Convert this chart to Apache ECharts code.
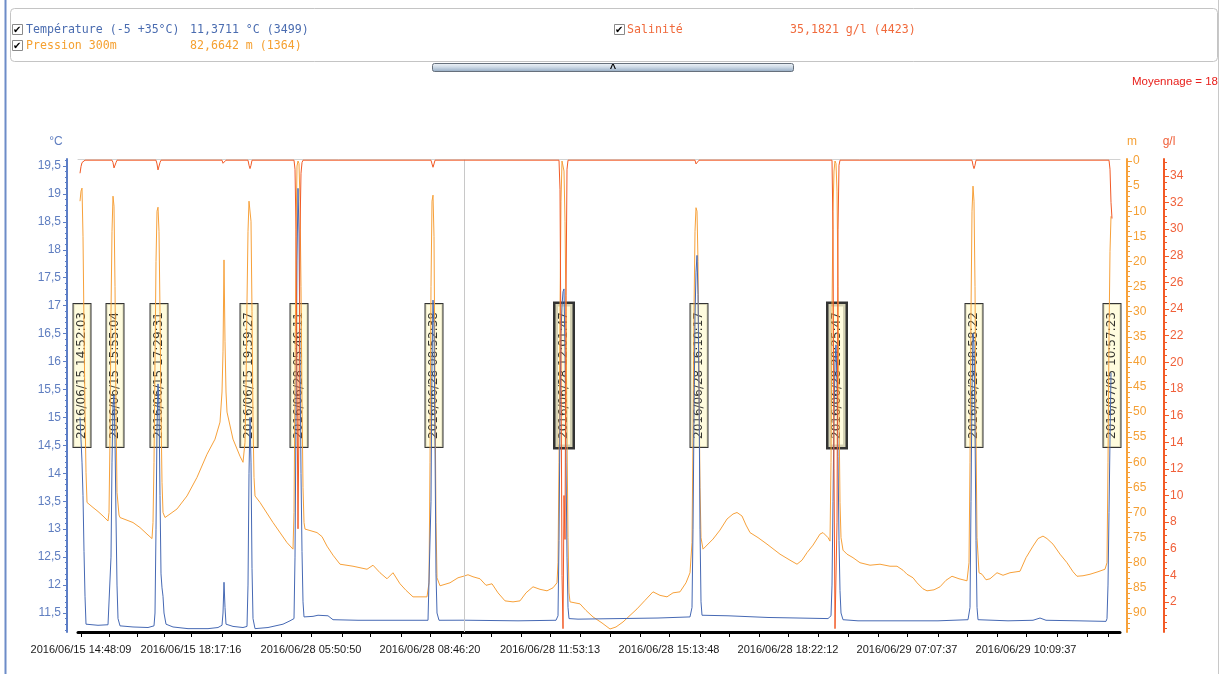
<!DOCTYPE html>
<html>
<head>
<meta charset="utf-8">
<script src="https://cdn.jsdelivr.net/npm/echarts@6/dist/echarts.min.js"></script>
<style>
  html, body { margin: 0; padding: 0; background: #fff; }
  #chart { width: 1220px; height: 674px; }
</style>
</head>
<body>
<div id="chart"></div>
<script>
// Records are indexed by sample number along the horizontal axis.

// Température (°C)
const temperature = [
  [2,15.0],[3,14.6],[4,14.2],[5,13.6],[6,12.6],[7,11.8],[8,11.3],[9,11.27],[20,11.28],[30,11.29],[32,11.3],
  [33,12.5],[34,14.2],[35,15.2],[36,15.4],[37,14.6],[38,13.2],[39,12.0],[40,11.4],[42,11.27],[55,11.25],[70,11.24],
  [76,11.27],[77,11.5],[78,13.0],[79,14.8],[80,15.6],[81,15.2],[82,13.6],[83,12.2],[84,11.95],[85,11.8],[86,11.5],
  [88,11.3],[95,11.25],[110,11.22],[130,11.22],[140,11.24],[144,11.28],[145,11.5],[146,12.05],[147,11.6],[148,11.3],
  [155,11.26],[165,11.24],[169,11.26],[170,12.0],[171,14.0],[172,15.0],[173,14.2],[174,12.3],[175,11.4],[177,11.22],
  [190,11.24],[205,11.3],[212,11.36],[216,11.4],[217,12.5],[218,15.0],[219,17.8],[220,19.1],[221,18.3],[222,16.0],
  [223,14.0],[224,12.6],[225,11.7],[226,11.43],[235,11.44],[240,11.46],[250,11.45],[255,11.38],[280,11.37],[320,11.37],
  [350,11.37],[352,11.4],[353,13.5],[354,16.0],[355,17.1],[356,16.6],[357,14.5],[358,12.2],[359,11.5],[361,11.37],
  [386,11.3711],[440,11.36],[478,11.37],[480,11.45],[481,12.8],[482,15.0],[483,16.5],[484,17.0],[485,17.25],[486,17.3],
  [487,16.2],[488,14.2],[489,12.5],[490,11.6],[491,11.4],[500,11.39],[540,11.4],[580,11.41],[612,11.43],[614,11.6],
  [615,13.0],[616,15.0],[617,16.8],[618,17.6],[619,17.9],[620,17.2],[621,15.5],[622,13.0],[623,11.7],[624,11.46],
  [650,11.45],[690,11.42],[720,11.41],[750,11.4],[753,11.45],[754,12.0],[755,13.5],[756,15.0],[757,16.0],[758,16.3],
  [759,15.6],[760,14.3],[761,12.8],[762,11.9],[763,11.5],[765,11.38],[780,11.36],[860,11.36],[890,11.38],[892,11.6],
  [893,13.5],[894,15.5],[895,16.5],[896,16.3],[897,14.8],[898,12.8],[899,11.6],[900,11.38],[930,11.36],[955,11.37],
  [962,11.41],[968,11.37],[1000,11.36],[1028,11.35],[1029,11.4],[1030,12.0],[1031,13.3],[1032,14.6],[1033,15.8]
];

// Pression 300m (m, depth)
const pression = [
  [2,8],[3,6],[4,5.4],[5,15],[6,33],[7,50],[8,62],[9,68],[15,69],[20,69.8],[25,70.7],[30,71.7],[31,70],[32,55],
  [33,30],[34,14],[35,7],[36,9],[37,25],[38,50],[39,66],[41,70.5],[42,71],[55,72],[62,73],[69,74.3],[74,75.2],
  [75,72],[76,60],[77,40],[78,20],[79,10],[80,9.2],[81,14],[82,30],[83,50],[84,64],[85,70],[87,71],[92,70.3],
  [99,69.3],[109,66.7],[119,63],[129,58.4],[137,55.4],[142,52],[144,46],[145,38],[146,19.7],[147,36],[148,46],
  [149,50],[155,55.4],[162,58.8],[165,60],[167,56],[168,45],[169,28],[170,14],[171,8],[172,7.7],[173,12],[174,30],
  [175,52],[176,63],[177,66.7],[182,68],[195,72],[209,76],[215,77.3],[216,70],[217,45],[218,15],[219,1],[220,0],
  [221,0.5],[222,8],[223,25],[224,48],[225,65],[226,72],[227,73.3],[239,74],[244,74.8],[249,76.7],[255,78.5],
  [262,80.3],[275,80.7],[282,81],[289,81.3],[295,80.5],[302,82],[309,83.2],[315,82],[322,84.2],[328,85.5],
  [335,86.8],[349,86.8],[351,84],[352,60],[353,25],[354,8],[355,6.8],[356,15],[357,45],[358,72],[359,83],
  [362,84.6],[372,84],[380,83],[386,82.6642],[390,82.4],[395,82.8],[402,83.2],[408,84.5],[414,84.2],[420,86],
  [427,87.6],[435,87.8],[442,87.6],[448,86],[455,84.8],[462,85.3],[469,85.6],[475,85],[479,84],[480,80],[481,60],
  [482,30],[483,8],[484,0],[485,0],[486,2],[487,12],[488,30],[489,55],[490,75],[491,86],[492,87.8],[502,88.2],
  [508,89.5],[515,90.8],[524,92],[532,93.2],[538,92.8],[545,91.8],[552,90.5],[559,89.2],[567,87.5],[575,85.8],
  [582,86.5],[589,86.8],[595,86],[602,85.8],[608,84],[612,82],[614,76],[615,55],[616,30],[617,14],[618,9.3],
  [619,10],[620,20],[621,45],[622,65],[623,75],[625,77.3],[635,75.3],[642,73.5],[649,71.3],[655,70.3],[659,70],
  [664,70.7],[668,72.5],[672,74],[680,75],[689,76.3],[702,78.3],[712,79.5],[719,80.3],[724,79.5],[729,78],
  [735,76.5],[742,74.3],[745,74],[750,75],[752,75.7],[753,60],[754,30],[755,10],[756,2],[757,0],[758,0.5],[759,6],
  [760,25],[761,50],[762,68],[763,75],[765,77.5],[769,78.3],[775,79],[782,80],[792,80.5],[802,80.3],[812,80.7],
  [819,80.7],[825,81.5],[829,82.3],[835,83],[839,84],[845,85.2],[849,85.6],[856,85.4],[862,84.8],[868,83.5],
  [874,82.7],[881,83.2],[889,83.6],[891,80],[892,60],[893,30],[894,10],[895,5],[896,8],[897,25],[898,55],[899,75],
  [901,82],[904,82.3],[908,83.4],[912,83.2],[919,82],[925,82.5],[932,82],[942,81.7],[948,79],[955,76.7],[960,75.2],
  [965,74.7],[969,75.2],[975,76.3],[982,78.3],[989,80],[995,81.8],[999,82.7],[1005,82.6],[1012,82.3],[1020,81.8],
  [1027,81.3],[1029,80],[1030,60],[1031,35],[1032,18],[1033,11]
];

// Salinité (g/l)
const salinite = [
  [2,34.2],[3,34.7],[4,35.0],[5,35.15],[7,35.18],[34,35.18],[35,35.0],[36,34.6],[37,34.6],[38,35.0],[39,35.18],
  [78,35.18],[79,34.9],[80,34.45],[81,34.6],[82,35.0],[83,35.18],[144,35.18],[145,34.95],[146,34.85],[147,35.0],
  [148,35.18],[170,35.18],[171,34.8],[172,34.55],[173,34.8],[174,35.18],[216,35.18],[217,34.5],[218,30.0],
  [219,18.0],[220,7.5],[221,16.0],[222,30.0],[223,34.2],[224,35.0],[225,35.18],[353,35.18],[354,34.9],[355,34.65],
  [356,34.9],[357,35.18],[386,35.1821],[481,35.18],[482,33.0],[483,20.0],[484,4.0],[485,0.0],[486,10.0],[487,6.7],
  [488,25.0],[489,34.5],[490,35.18],[617,35.18],[618,34.9],[619,34.8],[620,35.0],[621,35.18],[754,35.18],
  [755,30.0],[756,12.0],[757,0.0],[758,0.0],[759,8.0],[760,30.0],[761,34.8],[762,35.18],[894,35.18],[895,34.8],
  [896,34.55],[897,34.8],[898,35.18],[1031,35.18],[1032,34.5],[1033,32.0],[1034,30.8]
];

// Horizontal axis: tick positions, labelled positions and their timestamps
const xTicks = [3,31,59,86,113,144,173,203,233,264,292,323,352,383,413,443,472,502,532,562,591,622,651,681,710,740,770,800,829,860,889,919,948,979,1009,1030];
const xLabelPos = [3,113,233,352,472,591,710,829,948];
const xLabels = [
  '2016/06/15 14:48:09','2016/06/15 18:17:16','2016/06/28 05:50:50','2016/06/28 08:46:20',
  '2016/06/28 11:53:13','2016/06/28 15:13:48','2016/06/28 18:22:12','2016/06/29 07:07:37','2016/06/29 10:09:37'
];

// Vertical axis tick labels
const tempTicks = [11.5,12,12.5,13,13.5,14,14.5,15,15.5,16,16.5,17,17.5,18,18.5,19,19.5];
const depthTicks = [0,5,10,15,20,25,30,35,40,45,50,55,60,65,70,75,80,85,90];
const salTicks = [2,4,6,8,10,12,14,16,18,20,22,24,26,28,30,32,34];

// Event markers (record number, timestamp)
const eventPos = [4,37,81,171,221,356,486,621,759,896,1034];
const eventText = [
  '2016/06/15 14:52:03','2016/06/15 15:55:04','2016/06/15 17:29:31','2016/06/15 19:59:27',
  '2016/06/28 05:46:11','2016/06/28 08:52:38','2016/06/28 12:01:47','2016/06/28 16:10:17',
  '2016/06/28 20:25:47','2016/06/29 08:58:22','2016/07/05 10:57:23'
];
const eventLevel = 15.75;     // temperature level where the markers sit
const eventBold = [486, 759]; // doubled markers

// Cursor position and readout counters
const cursorPos = 386;
const readoutCount = ['(3499)', '(1364)', '(4423)'];
const averaging = 18;

// ---------------------------------------------------------------
const BLUE = '#4669b4', BLUE_TXT = '#5f7ec0';
const ORANGE = '#f7a13a', ORANGE_TXT = '#f5a035';
const RED = '#f25a26', RED_TXT = '#f0603a';
const SANS = '"Liberation Sans", Arial, sans-serif';
const MONO = '"DejaVu Sans Mono", monospace';

function valueAt(series, pos) {
  const p = series.find(d => d[0] === pos);
  return p ? p[1] : NaN;
}
const fr = (v, n) => v.toFixed(n).replace('.', ',');
const comma = v => String(v).replace('.', ',');

function range(a, b, step) {
  const out = [];
  for (let v = a; v <= b + 1e-9; v += step) out.push(Math.round(v * 100) / 100);
  return out;
}

const chart = echarts.init(document.getElementById('chart'), null, { renderer: 'canvas' });

function minorAxis(base, ticks, len, color) {
  return Object.assign({}, base, {
    name: '',
    axisLine: { show: false, onZero: false },
    axisLabel: { show: false },
    splitLine: { show: false },
    axisTick: { show: true, customValues: ticks, length: len, lineStyle: { color: color, width: 1 } }
  });
}

const tempAxis = {
  type: 'value', position: 'left', offset: 11, min: 11.16, max: 19.625,
  name: '°C', nameLocation: 'end', nameGap: 11,
  nameTextStyle: { color: BLUE_TXT, fontSize: 12, fontFamily: SANS, padding: [0, 22, 0, 0] },
  axisLine: { show: true, onZero: false, lineStyle: { color: '#5d7ec6', width: 2 } },
  axisTick: { show: true, customValues: tempTicks, length: 4, lineStyle: { color: '#5d7ec6' } },
  axisLabel: { customValues: tempTicks, formatter: v => comma(v), color: BLUE_TXT, fontSize: 12, fontFamily: SANS, margin: 6 },
  splitLine: { show: false }
};
const depthAxis = {
  type: 'value', position: 'right', offset: 7, min: -0.4, max: 93.8, inverse: true,
  name: 'm', nameLocation: 'start', nameGap: 11,
  nameTextStyle: { color: ORANGE_TXT, fontSize: 12, fontFamily: SANS, padding: [0, 0, 0, 10] },
  axisLine: { show: true, onZero: false, lineStyle: { color: ORANGE, width: 2 } },
  axisTick: { show: true, customValues: depthTicks, length: 5, lineStyle: { color: ORANGE } },
  axisLabel: { customValues: depthTicks, color: ORANGE_TXT, fontSize: 12, fontFamily: SANS, margin: 6 },
  splitLine: { show: false }
};
const salAxis = {
  type: 'value', position: 'right', offset: 44, min: -0.25, max: 35.27,
  name: 'g/l', nameLocation: 'end', nameGap: 11,
  nameTextStyle: { color: RED_TXT, fontSize: 12, fontFamily: SANS, padding: [0, 0, 0, 10] },
  axisLine: { show: true, onZero: false, lineStyle: { color: RED, width: 2 } },
  axisTick: { show: true, customValues: salTicks, length: 5, lineStyle: { color: RED } },
  axisLabel: { customValues: salTicks, color: RED_TXT, fontSize: 12, fontFamily: SANS, margin: 6 },
  splitLine: { show: false }
};

const tv = valueAt(temperature, cursorPos);
const pv = valueAt(pression, cursorPos);
const sv = valueAt(salinite, cursorPos);

function checkbox(x, y) {
  return [
    { type: 'rect', shape: { x: x + 0.5, y: y + 0.5, width: 10, height: 10 }, style: { fill: '#fff', stroke: '#8a8a8a', lineWidth: 1 }, z: 10 },
    { type: 'text', x: x + 1, y: y + 1, style: { text: '✔', fill: '#000', font: 'bold 10px "DejaVu Sans"', textVerticalAlign: 'top' }, z: 11 }
  ];
}

const graphics = [
  { type: 'line', shape: { x1: 5.5, y1: 0, x2: 5.5, y2: 674 }, style: { stroke: '#6d8cc8', lineWidth: 2 } },
  { type: 'line', shape: { x1: 1218.5, y1: 0, x2: 1218.5, y2: 674 }, style: { stroke: '#c8c8c8', lineWidth: 1 } },
  { type: 'rect', shape: { x: 10.5, y: 8.5, width: 1207, height: 53, r: 4 }, style: { fill: '#fff', stroke: '#c4c4c4', lineWidth: 1 }, z: 5 },
  ...checkbox(12, 24), ...checkbox(12, 40), ...checkbox(614, 24),
  { type: 'text', x: 26, y: 30, style: { text: 'Température (-5 +35°C)', fill: '#4a6cb0', font: '11.6px ' + MONO, textVerticalAlign: 'middle' }, z: 10 },
  { type: 'text', x: 190, y: 30, style: { text: fr(tv, 4) + ' °C ' + readoutCount[0], fill: '#4a6cb0', font: '11.6px ' + MONO, textVerticalAlign: 'middle' }, z: 10 },
  { type: 'text', x: 26, y: 46, style: { text: 'Pression 300m', fill: '#f5a030', font: '11.6px ' + MONO, textVerticalAlign: 'middle' }, z: 10 },
  { type: 'text', x: 190, y: 46, style: { text: fr(pv, 4) + ' m ' + readoutCount[1], fill: '#f5a030', font: '11.6px ' + MONO, textVerticalAlign: 'middle' }, z: 10 },
  { type: 'text', x: 627, y: 30, style: { text: 'Salinité', fill: '#f06a3c', font: '11.6px ' + MONO, textVerticalAlign: 'middle' }, z: 10 },
  { type: 'text', x: 790, y: 30, style: { text: fr(sv, 4) + ' g/l ' + readoutCount[2], fill: '#f06a3c', font: '11.6px ' + MONO, textVerticalAlign: 'middle' }, z: 10 },
  { type: 'rect', shape: { x: 432.5, y: 63.5, width: 361, height: 8, r: 2 },
    style: { fill: new echarts.graphic.LinearGradient(0, 0, 0, 1, [
      { offset: 0, color: '#f2f6fa' }, { offset: 0.45, color: '#cfdbe7' }, { offset: 1, color: '#8ea6c0' }
    ]), stroke: '#66707c', lineWidth: 1 }, z: 10 },
  { type: 'text', x: 613, y: 69, style: { text: '^', fill: '#000', font: 'bold 11px ' + SANS, textAlign: 'center', textVerticalAlign: 'middle' }, z: 11 },
  { type: 'text', x: 1218, y: 82, style: { text: 'Moyennage = ' + averaging, fill: '#e8201c', font: '11.5px ' + SANS, textAlign: 'right', textVerticalAlign: 'middle' }, z: 10 }
];

const option = {
  animation: false,
  backgroundColor: '#fff',
  grid: { left: 78, right: 100, top: 159, bottom: 42, containLabel: false },
  graphic: graphics,
  xAxis: [
    {
      type: 'value', min: 0, max: 1042, position: 'bottom',
      axisLine: { show: true, onZero: false, lineStyle: { color: '#000', width: 3 } },
      axisTick: { show: true, customValues: xTicks, length: 5, lineStyle: { color: '#000', width: 1 } },
      axisLabel: {
        customValues: xLabelPos,
        formatter: v => xLabels[xLabelPos.indexOf(v)] || '',
        color: '#1a1a1a', fontSize: 11, fontFamily: SANS, margin: 12
      },
      splitLine: { show: false }
    },
    {
      type: 'value', min: 0, max: 1042, position: 'top',
      axisLine: { show: true, onZero: false, lineStyle: { color: '#d2d2d2', width: 1 } },
      axisTick: { show: false }, axisLabel: { show: false }, splitLine: { show: false }
    }
  ],
  yAxis: [
    tempAxis,
    depthAxis,
    salAxis,
    minorAxis(tempAxis, range(11.2, 19.6, 0.1), 2, '#5d7ec6'),
    minorAxis(depthAxis, range(0, 93, 1), 3, ORANGE),
    minorAxis(salAxis, range(0, 35, 0.5), 3, RED)
  ],
  series: [
    {
      name: 'Évènements', type: 'scatter', yAxisIndex: 0, z: 1, silent: true,
      symbolSize: 0,
      data: eventPos.map((x, i) => {
        const item = { value: [x, eventLevel] };
        if (eventBold.indexOf(x) >= 0) item.label = { borderWidth: 2.5 };
        return item;
      }),
      label: {
        show: true, position: 'inside', rotate: 90,
        formatter: p => eventText[p.dataIndex],
        fontFamily: '"DejaVu Sans", sans-serif', fontSize: 12, lineHeight: 15, color: '#000',
        backgroundColor: '#fffbd6', borderColor: '#000', borderWidth: 1,
        padding: [1, 8, 1, 8]
      }
    },
    {
      name: 'Pression 300m', type: 'line', yAxisIndex: 1, z: 3, data: pression,
      showSymbol: false, symbol: 'none', lineStyle: { color: ORANGE, width: 1 }
    },
    {
      name: 'Température', type: 'line', yAxisIndex: 0, z: 4, data: temperature,
      showSymbol: false, symbol: 'none', lineStyle: { color: BLUE, width: 1 },
      markLine: {
        silent: true, symbol: 'none', label: { show: false },
        lineStyle: { color: '#c8c8c8', width: 1, type: 'solid' },
        data: [{ xAxis: cursorPos }]
      }
    },
    {
      name: 'Salinité', type: 'line', yAxisIndex: 2, z: 5, data: salinite,
      showSymbol: false, symbol: 'none', lineStyle: { color: RED, width: 1 }
    }
  ]
};

chart.setOption(option);
</script>
</body>
</html>
